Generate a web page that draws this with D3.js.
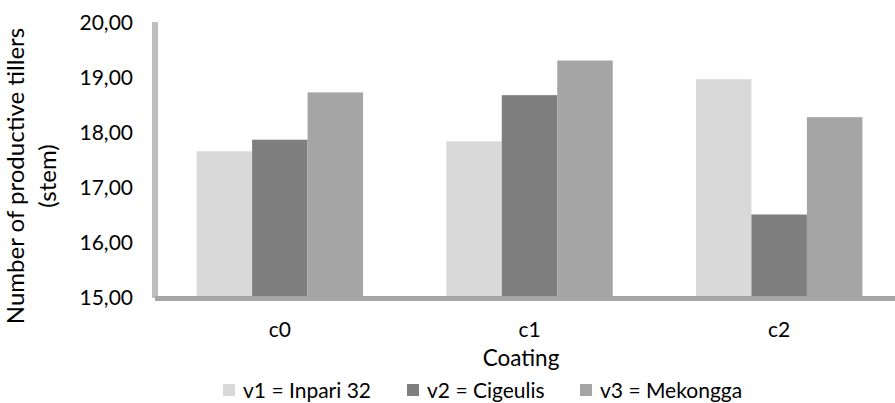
<!DOCTYPE html>
<html><head><meta charset="utf-8">
<script src="https://cdn.jsdelivr.net/npm/d3@7"></script>
<style>body{margin:0;background:#fff}svg{display:block}text{font-family:Lato,"Open Sans",sans-serif;fill:#000}</style>
</head><body><svg id="c" width="895" height="403"></svg>
<script>
const categories = ["c0", "c1", "c2"];
const seriesNames = ["v1 = Inpari 32", "v2 = Cigeulis", "v3 = Mekongga"];
const v1 = [17.65, 17.83, 18.96];
const v2 = [17.86, 18.67, 16.50];
const v3 = [18.72, 19.30, 18.27];
const yTicks = [15, 16, 17, 18, 19, 20];
const colors = ["#d9d9d9", "#7f7f7f", "#a5a5a5"];
const series = [v1, v2, v3];

const svg = d3.select("#c");
const x0 = d3.scaleBand().domain(categories).range([155, 904]).paddingInner(1/3).paddingOuter(1/6);
const x1 = d3.scaleBand().domain(d3.range(3)).range([0, x0.bandwidth()]);
const y = d3.scaleLinear().domain([15, 20]).range([297, 22]);

// bars
categories.forEach((c, i) => {
  series.forEach((s, j) => {
    svg.append("rect")
      .attr("x", x0(c) + x1(j))
      .attr("y", y(s[i]))
      .attr("width", x1.bandwidth())
      .attr("height", y(15) - y(s[i]) - 1)
      .attr("fill", colors[j]);
  });
});

// y axis line
svg.append("rect").attr("x", 152).attr("y", 22).attr("width", 6).attr("height", 276).attr("fill", "#bfbfbf");
// x axis line
svg.append("rect").attr("x", 155).attr("y", 296).attr("width", 745).attr("height", 5).attr("fill", "#a6a6a6");

// y tick labels
const yAxis = d3.axisLeft(y).tickValues(yTicks).tickSize(0).tickPadding(0)
  .tickFormat(d => d3.format(".2f")(d).replace(".", ","));
const ga = svg.append("g").attr("transform", "translate(133,0)").call(yAxis);
ga.select(".domain").remove();
ga.selectAll("text").style("font-size", "21px").style("font-family", "Lato, sans-serif").attr("fill", "#000").attr("dy", "0.35em");

// x tick labels
const xAxis = d3.axisBottom(x0).tickSize(0).tickPadding(0);
const gx = svg.append("g").attr("transform", "translate(0,322)").call(xAxis);
gx.select(".domain").remove();
gx.selectAll("text").style("font-size", "21px").style("font-family", "Lato, sans-serif").attr("fill", "#000").attr("dy", "0.71em");

// axis titles
svg.append("text").attr("x", 521).attr("y", 366).attr("text-anchor", "middle").style("font-size", "22.5px").text("Coating");
const yt = svg.append("text").attr("transform", "translate(24,176) rotate(-90)").attr("text-anchor", "middle").style("font-size", "24px");
yt.append("tspan").attr("x", 0).attr("y", 0).text("Number of productive tillers");
yt.append("tspan").attr("x", 0).attr("y", 32).text("(stem)");

// legend
const legX = [223, 407, 580];
seriesNames.forEach((n, j) => {
  svg.append("rect").attr("x", legX[j]).attr("y", 384).attr("width", 12).attr("height", 12).attr("fill", colors[j]);
  svg.append("text").attr("x", legX[j] + 20).attr("y", 398).style("font-size", "21px").text(n);
});
</script></body></html>
